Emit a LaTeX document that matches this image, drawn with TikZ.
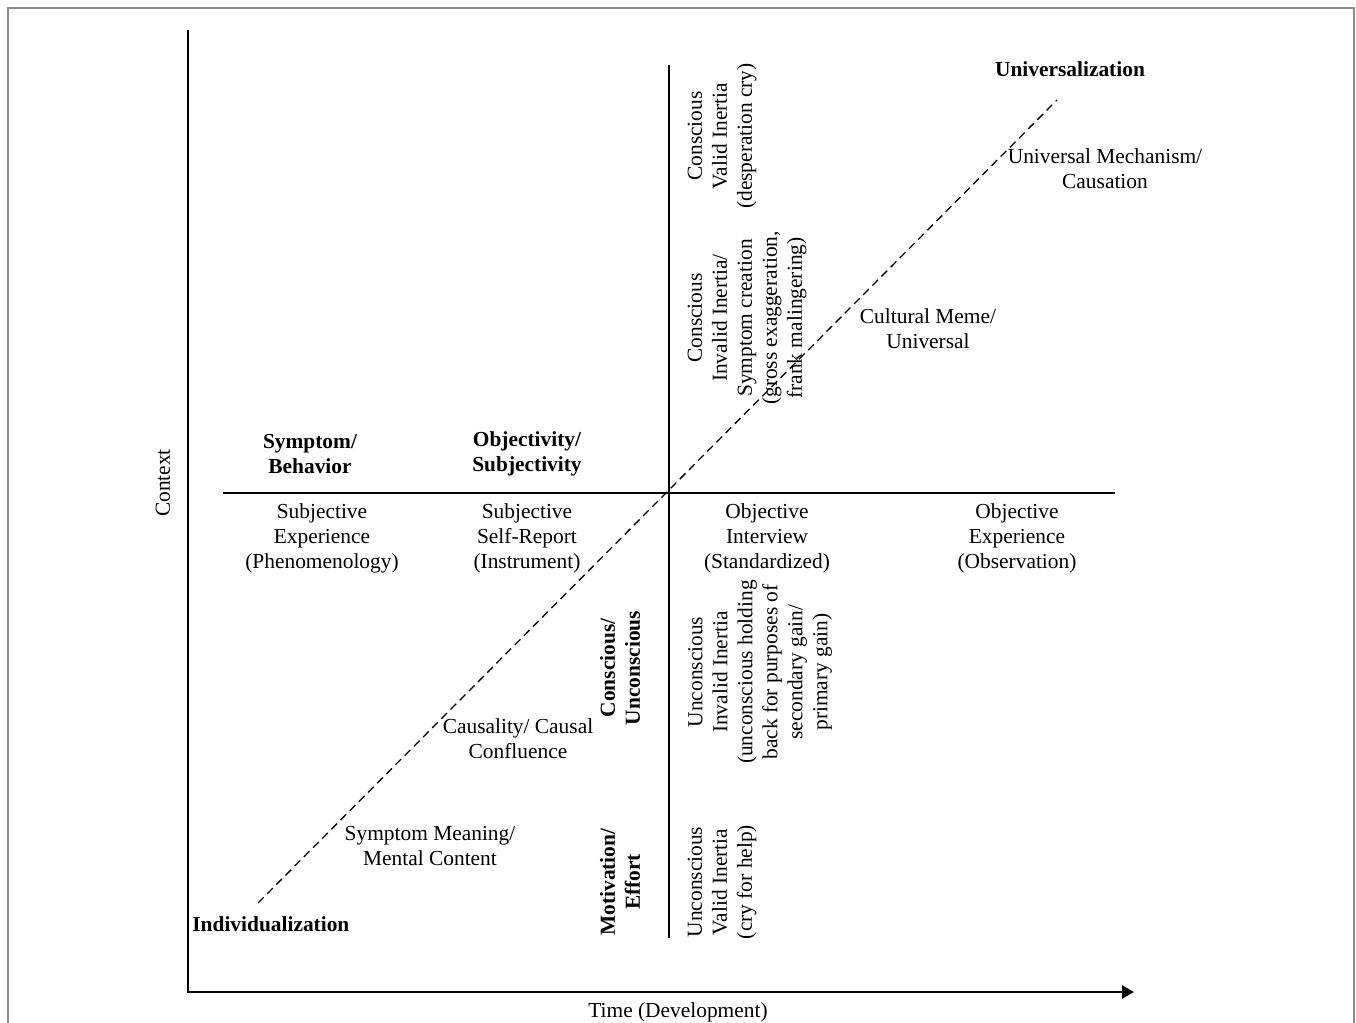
\documentclass[tikz,border=0pt]{standalone}
\usepackage{fontspec}
\setmainfont{Liberation Serif}
\usetikzlibrary{arrows.meta}
\begin{document}
\begin{tikzpicture}[x=0.5pt,y=-0.5pt,
  every node/.style={font=\fontsize{10.7}{12.5}\selectfont, align=center, inner sep=0pt},
  bold/.style={font=\fontsize{10.7}{12.5}\selectfont\bfseries},
  vert/.style={rotate=90},
  axis/.style={line width=1pt},
  divider/.style={line width=0.8pt},
  diag/.style={line width=0.65pt, dash pattern=on 4pt off 2.5pt},
  frame/.style={draw=black!45, line width=0.8pt}]
\useasboundingbox (0,0) rectangle (1356,1023);
\draw[frame] (8,1030) -- (8,8) -- (1354,8) -- (1354,1030);
% axes
\coordinate (ytop) at (188,30);
\coordinate (origin) at (188,992);
\coordinate (xend) at (1134,992);
\draw[axis, -{Triangle[length=6pt,width=6.5pt]}] (ytop) -- (origin) -- (xend);
\node[vert] (context) at (163,483) {Context};
\node (time) at (678,1012) {Time (Development)};
% dividers
\coordinate (hl) at (223,493);
\coordinate (hr) at (1115,493);
\coordinate (vt) at (669,65);
\coordinate (vb) at (669,938);
\draw[divider] (hl) -- (hr);
\draw[divider] (vt) -- (vb);
% diagonal
\coordinate (dlo) at (258,903);
\coordinate (dhi) at (1057,100);
\draw[diag] (dlo) -- (dhi);
% labels
\node[bold] (univ) at (1070,69) {Universalization};
\node (mech) at (1105,169) {Universal Mechanism/\\Causation};
\node (meme) at (928,329) {Cultural Meme/\\Universal};
\node[bold] (symb) at (310,454) {Symptom/\\Behavior};
\node[bold] (objsub) at (527,454) {Objectivity/\\Subjectivity};
\node (subexp) at (322,538) {Subjective\\Experience\\(Phenomenology)};
\node (subself) at (527,538) {Subjective\\Self-Report\\(Instrument)};
\node (objint) at (767,538) {Objective\\Interview\\(Standardized)};
\node (objexp) at (1017,538) {Objective\\Experience\\(Observation)};
\node (causal) at (518,739) {Causality/ Causal\\Confluence};
\node (meaning) at (430,846) {Symptom Meaning/\\Mental Content};
\node[bold, anchor=west] (indiv) at (192,924) {Individualization};
% rotated
\node[vert] (cvi) at (722,136) {Conscious\\Valid Inertia\\(desperation cry)};
\node[vert] (cii) at (747,318) {Conscious\\Invalid Inertia/\\Symptom creation\\(gross exaggeration,\\frank malingering)};
\node[vert, bold] (cu) at (620,668) {Conscious/\\Unconscious};
\node[vert] (uii) at (760,672) {Unconscious\\Invalid Inertia\\(unconscious holding\\back for purposes of\\secondary gain/\\primary gain)};
\node[vert, bold] (mot) at (620,882) {Motivation/\\Effort};
\node[vert] (uvi) at (722,882) {Unconscious\\Valid Inertia\\(cry for help)};
\end{tikzpicture}
\end{document}
